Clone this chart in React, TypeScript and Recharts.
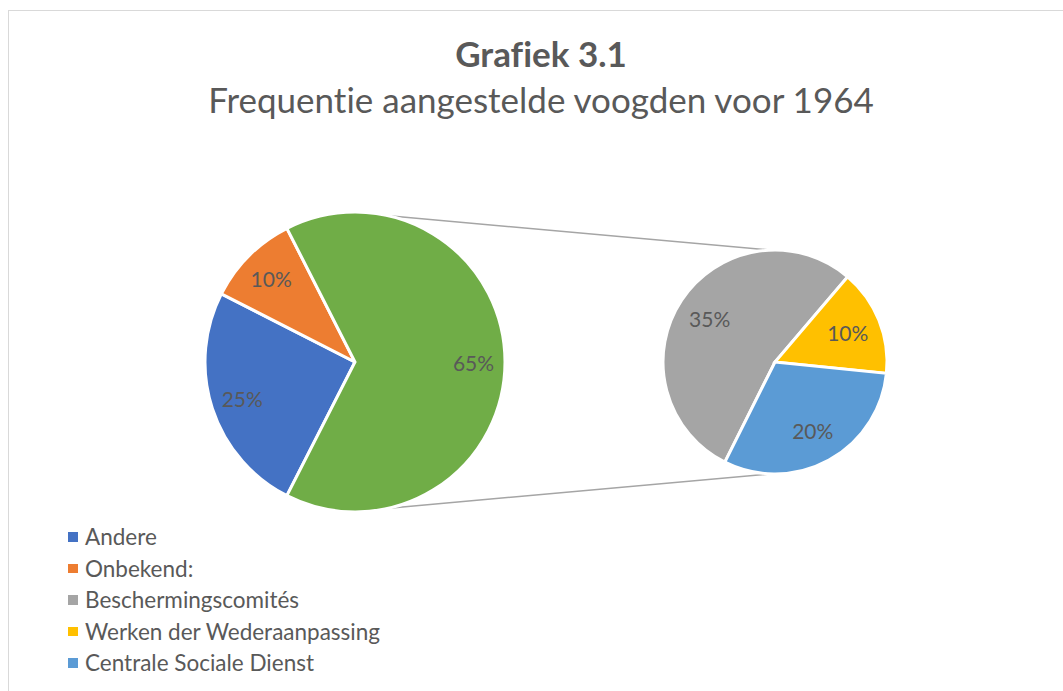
import React from 'react';
import { PieChart, Pie, Cell, Customized } from 'recharts';

// main pie: the "rest" slice is split out in the second pie
const MAIN_NAMES = ['Andere', 'Onbekend:', 'Overig'];
const MAIN_VALUES = [25, 10, 65];
const MAIN_COLORS = ['#4472C4', '#ED7D31', '#70AD47'];

const SUB_NAMES = ['Beschermingscomités', 'Werken der Wederaanpassing', 'Centrale Sociale Dienst'];
const SUB_VALUES = [35, 10, 20];
const SUB_COLORS = ['#A5A5A5', '#FFC000', '#5B9BD5'];

const mainData = MAIN_NAMES.map((name, i) => ({ name, value: MAIN_VALUES[i] }));
const subData = SUB_NAMES.map((name, i) => ({ name, value: SUB_VALUES[i] }));

const legendItems = [
  ...MAIN_NAMES.slice(0, 2).map((n, i) => ({ name: n, color: MAIN_COLORS[i] })),
  ...SUB_NAMES.map((n, i) => ({ name: n, color: SUB_COLORS[i] })),
];

const FONT = 'Lato, "Open Sans", sans-serif';
const TEXT = '#595959';
const NOLIG = { fontVariantLigatures: 'none' as const };

const MAIN = { cx: 355, cy: 362, r: 150 };
const SUB = { cx: 775, cy: 362, r: 112 };
const RAD = Math.PI / 180;

const makeLabel = (frac: number) => (props: any) => {
  const { cx, cy, midAngle, outerRadius, value } = props;
  const x = cx + outerRadius * frac * Math.cos(-midAngle * RAD);
  const y = cy + outerRadius * frac * Math.sin(-midAngle * RAD);
  return (
    <text x={x} y={y} fill={TEXT} fontSize={21} fontFamily={FONT} textAnchor="middle" dominantBaseline="central">
      {`${value}%`}
    </text>
  );
};

// lines linking the main pie to the secondary pie
const Connectors = () => {
  const a = 77 * RAD;
  const x1 = MAIN.cx + MAIN.r * Math.cos(a);
  const yTop = MAIN.cy - MAIN.r * Math.sin(a);
  const yBot = MAIN.cy + MAIN.r * Math.sin(a);
  return (
    <g stroke="#A5A5A5" strokeWidth={1.5}>
      <line x1={x1} y1={yTop} x2={SUB.cx - 5} y2={SUB.cy - SUB.r} />
      <line x1={x1} y1={yBot} x2={SUB.cx - 5} y2={SUB.cy + SUB.r} />
    </g>
  );
};

const ChartLegend = () => (
  <div style={{ position: 'absolute', left: 68, top: 521, fontFamily: FONT, fontSize: 22.5, color: TEXT, ...NOLIG }}>
    {legendItems.map((it) => (
      <div key={it.name} style={{ display: 'flex', alignItems: 'center', height: 31.5, whiteSpace: 'nowrap' }}>
        <span style={{ width: 9.5, height: 9.5, background: it.color, marginRight: 7.5, display: 'inline-block' }} />
        {it.name}
      </div>
    ))}
  </div>
);

export default function App() {
  return (
    <div style={{ position: 'absolute', left: 0, top: 0, width: 1063, height: 691, background: '#fff', overflow: 'hidden' }}>
      <div style={{ position: 'absolute', left: 8, top: 10, width: 1100, height: 720, border: '1.5px solid #D9D9D9' }} />
      <div style={{ position: 'absolute', left: 0, top: 0 }}>
        <PieChart width={1063} height={691} margin={{ top: 0, right: 0, bottom: 0, left: 0 }}>
          <text x={541} y={67} textAnchor="middle" fill={TEXT} fontFamily={FONT} fontSize={35} fontWeight="bold" style={NOLIG}>
            Grafiek 3.1
          </text>
          <text x={541} y={113} textAnchor="middle" fill={TEXT} fontFamily={FONT} fontSize={35} style={NOLIG}>
            Frequentie aangestelde voogden voor 1964
          </text>
          <Customized component={Connectors} />
          <Pie
            data={mainData}
            dataKey="value"
            nameKey="name"
            cx={MAIN.cx}
            cy={MAIN.cy}
            outerRadius={MAIN.r}
            startAngle={243}
            endAngle={-117}
            stroke="#fff"
            strokeWidth={3}
            label={makeLabel(0.79)}
            labelLine={false}
            isAnimationActive={false}
          >
            {mainData.map((d, i) => (
              <Cell key={d.name} fill={MAIN_COLORS[i]} />
            ))}
          </Pie>
          <Pie
            data={subData}
            dataKey="value"
            nameKey="name"
            cx={SUB.cx}
            cy={SUB.cy}
            outerRadius={SUB.r}
            startAngle={243.4}
            endAngle={-116.6}
            stroke="#fff"
            strokeWidth={3}
            label={makeLabel(0.7)}
            labelLine={false}
            isAnimationActive={false}
          >
            {subData.map((d, i) => (
              <Cell key={d.name} fill={SUB_COLORS[i]} />
            ))}
          </Pie>
        </PieChart>
      </div>
      <ChartLegend />
    </div>
  );
}
